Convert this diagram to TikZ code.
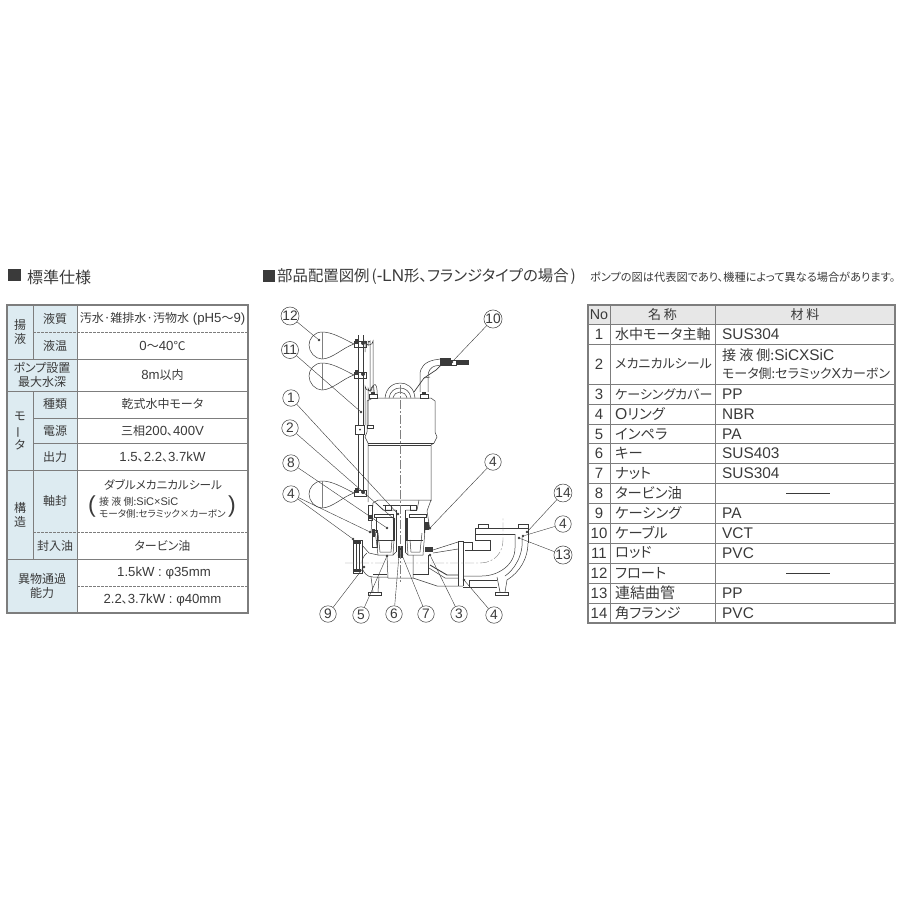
\documentclass[tikz,border=0pt]{standalone}
\usepackage{graphicx}
\usepackage{fontspec}
\setmainfont[RawFeature=+palt]{Noto Sans CJK JP}
\newfontfamily\latfont[Scale=1.1]{Liberation Sans}
\newcommand{\lat}[1]{{\latfont #1}}
\newcommand{\fsz}[1]{\fontsize{#1}{#1}\selectfont\setlength{\baselineskip}{1.2\baselineskip}}
\definecolor{ink}{HTML}{3A3A3A}
\definecolor{rulegray}{HTML}{7D7D7D}
\definecolor{paleblue}{HTML}{DDEBF1}
\definecolor{palegray}{HTML}{E7E7E7}
\tikzset{every node/.style={inner sep=0pt,text=ink}}
\tikzset{title/.style={anchor=west,font=\fsz{15.4}}}
\tikzset{cell/.style={align=center,font=\fsz{12}}}
\tikzset{rowtext/.style={anchor=west,font=\fsz{14.3}}}
\tikzset{frame/.style={rulegray,line width=1.1pt}}
\tikzset{row/.style={rulegray,line width=0.7pt}}
\tikzset{rowdash/.style={rulegray,line width=0.6pt,dash pattern=on 2.5pt off 1.5pt}}
\tikzset{part/.style={ink,line width=0.5pt}}
\tikzset{dark/.style={fill=ink,draw=none}}
\tikzset{center line/.style={gray,line width=0.4pt,dash pattern=on 9pt off 2pt on 2pt off 2pt}}
\tikzset{point/.style={fill=ink,circle,inner sep=0.9pt}}
\tikzset{numcircle/.style={draw=ink,fill=white,circle,line width=0.5pt,minimum size=16.5pt,font=\latfont\fsz{12.5}}}
\tikzset{leader/.style={ink,line width=0.4pt}}
\begin{document}
\begin{tikzpicture}[x=1pt,y=-1pt]
    \useasboundingbox (0,0) rectangle (900,900);
    % titles
    \fill [ink] (8,269) rectangle (21,281);
    \node [title,font=\fsz{16}] (specTitle) at (27,277) {標準仕様};
    \fill [ink] (263,270) rectangle (275,282);
    \node [title] (partsTitle) at (277,277) {部品配置図例\hspace{2pt}(\lat{-LN}形、フランジタイプの場合\hspace{2pt})};
    \node [anchor=west,font=\fsz{11.2}] (noteText) at (590,277) {ポンプの図は代表図であり、機種によって異なる場合があります。};

    % spec table
    \fill [paleblue] (7,305) rectangle (77,613);
    \foreach \ry in {359,391,470,559.5} {
        \draw [row] (7,\ry) -- (248,\ry);
    }
    \foreach \ry in {418,443.5} {
        \draw [row] (33,\ry) -- (248,\ry);
    }
    \draw [rowdash] (33,332) -- (248,332);
    \draw [rowdash] (33,532) -- (248,532);
    \draw [rowdash] (77,586) -- (248,586);
    \draw [row] (33,305) -- (33,359);
    \draw [row] (33,391) -- (33,559.5);
    \draw [row] (77,305) -- (77,613);
    \draw [frame] (7,305) rectangle (248,613);

    \node [cell] (sLiquid) at (20,332) {揚\\液};
    \node [cell] (sQuality) at (55,319) {液質};
    \node [cell] (sTemp) at (55,346) {液温};
    \node [cell] (sDepth) at (42,375) {ポンプ設置\\最大水深};
    \node [cell] (sMotor) at (20,431) {モ\\\rotatebox[origin=c]{90}{ー}\\タ};
    \node [cell] (sKind) at (55,404) {種類};
    \node [cell] (sPower) at (55,431) {電源};
    \node [cell] (sOutput) at (55,457) {出力};
    \node [cell] (sBuild) at (20,515) {構\\造};
    \node [cell] (sSeal) at (55,501) {軸封};
    \node [cell] (sOil) at (55,546) {封入油};
    \node [cell] (sPass) at (42,586) {異物通過\\能力};

    \node [cell] (vQuality) at (162.5,319) {汚水·雑排水·汚物水\lat{ (pH5}～\lat{9)}};
    \node [cell] (vTemp) at (162.5,346) {\lat{0}～\lat{40}℃};
    \node [cell] (vDepth) at (162.5,375) {\lat{8m}以内};
    \node [cell] (vKind) at (162.5,404) {乾式水中モータ};
    \node [cell] (vPower) at (162.5,431) {三相\lat{200}、\lat{400V}};
    \node [cell] (vOutput) at (162.5,457) {\lat{1.5}、\lat{2.2}、\lat{3.7kW}};
    \node [cell,font=\fsz{11.6}] (vSeal) at (163,485) {ダブルメカニカルシール};
    \node [cell,anchor=west,font=\fsz{10}] (vSealA) at (99,502) {接 液 側:\lat{SiC×SiC}};
    \node [cell,anchor=west,font=\fsz{9.6}] (vSealB) at (99,514) {モータ側:セラミック×カーボン};
    \node [cell,font=\latfont\fsz{21}] (parenL) at (92,507) {(};
    \node [cell,font=\latfont\fsz{21}] (parenR) at (232,507) {)};
    \node [cell] (vOil) at (162.5,546) {タービン油};
    \node [cell] (vPassA) at (164,573) {\lat{1.5kW : φ35mm}};
    \node [cell] (vPassB) at (162.5,600) {\lat{2.2}、\lat{3.7kW : φ40mm}};

    % pump: floats and rod
    \foreach \fy in {344,375,493} {
        \draw [part] (354,\fy) .. controls (342,\fy-6) and (332,\fy-12) .. (322,\fy-12)
            .. controls (314,\fy-12) and (309,\fy-5) .. (309,\fy+1)
            .. controls (309,\fy+8) and (315,\fy+15) .. (322,\fy+15)
            .. controls (332,\fy+15) and (344,\fy+3) .. (354,\fy) -- cycle;
        \draw [part,gray] (322,\fy-12) -- (322,\fy+15);
        \draw [part,fill=white] (354,\fy-3) rectangle (366,\fy+3);
        \fill [dark] (355,\fy-5) rectangle (359,\fy);
        \fill [dark] (363,\fy-1) circle (2pt);
    }
    \draw [part] (358,335) -- (358,490);
    \draw [part] (363,335) -- (363,490);
    \draw [part,fill=white] (355,425) rectangle (364,434);
    \fill [dark] (360,429.5) circle (1pt);
    \draw [part] (365,352) -- (365,341) arc [start angle=180,end angle=0,radius=4] -- (373,392);
    \draw [part] (368,346) -- (368,341) arc [start angle=180,end angle=0,radius=1] -- (370,392);
    \draw [part] (365,425) -- (365,386) arc [start angle=180,end angle=90,radius=5]
        .. controls (374,381) and (377,384) .. (377,390) -- (377,394);
    \draw [part] (368,425) -- (368,388) arc [start angle=180,end angle=90,radius=3]
        .. controls (373,384) and (374,386) .. (374,390) -- (374,394);
    \draw [part] (367,425) rectangle (373,428);

    % pump: motor
    \draw [part] (373,398) -- (431,398) -- (435,401) -- (435,432) -- (437,437) -- (434,443) -- (431,445)
        -- (431,501);
    \draw [part] (373,398) -- (367,401) -- (367,432) -- (365,437) -- (368,443) -- (368,502);
    \draw [part] (368,443) -- (434,443);
    \draw [part] (368,445) -- (431,445);
    \draw [part] (385,398) .. controls (386,387) and (394,383) .. (400,383)
        .. controls (407,383) and (414,387) .. (415,398);
    \draw [part] (389,398) .. controls (390,391) and (395,388) .. (400,388)
        .. controls (405,388) and (410,391) .. (411,398);
    \draw [part] (393,398) .. controls (394,394) and (397,392) .. (400,392)
        .. controls (403,392) and (406,394) .. (407,398);
    \foreach \bx in {373,424} {
        \draw [part,fill=white] (\bx-4,394) rectangle (\bx+4,398);
        \fill [dark] (\bx-2,392) rectangle (\bx+2,394);
    }
    \draw [part] (420,392) -- (420,375) .. controls (420,367) and (425,362) .. (434,360) -- (440,359);
    \draw [part] (428,392) -- (428,376) .. controls (428,371) and (431,367) .. (435,366) -- (441,365);
    \fill [dark] (440,358) rectangle (451,366);
    \draw [part,fill=white] (451,360) rectangle (456,365);
    \fill [dark] (456,360) rectangle (469,365);
    \draw [part,line width=0.7pt] (414,392) -- (424,378) -- (436,370) -- (441,365);
    \draw [part] (424,378) -- (430,377);

    % pump: seal housing
    \draw [part] (373,503) -- (378,500) -- (431,500) -- (427,511);
    \draw [part] (376,503) -- (383,510) -- (396,510);
    \draw [part] (406,510) -- (417,510) -- (419,500);
    \draw [part] (383,505) -- (417,505);
    \draw [part] (385,505) rectangle (391,510);
    \draw [part] (410,505) rectangle (416,510);
    \draw [part] (373,503) -- (372,517) -- (371,533);
    \draw [part] (427,511) -- (430,530);
    \draw [part] (374,514) rectangle (393,517);
    \draw [part] (409,514) rectangle (426,517);
    \draw [part] (376,517) -- (376,533);
    \draw [part] (424,517) -- (424,533);
    \draw [part] (375,530) -- (378,555) -- (393,555) -- (394,540);
    \draw [part] (378,533) -- (380,552) -- (391,552) -- (392,540);
    \draw [part] (425,530) -- (423,555) -- (408,555) -- (407,540);
    \draw [part] (422,533) -- (420,552) -- (411,552) -- (410,540);
    \draw [part] (376,540) -- (394,540);
    \draw [part] (407,540) -- (423,540);
    \draw [part] (396,510) -- (396,552);
    \draw [part] (405,510) -- (405,552);
    \draw [part] (393,555) -- (396,552);
    \draw [part] (408,555) -- (405,552);
    \draw [part] (372,530) rectangle (377,547);
    \draw [part] (368,505) rectangle (372,520);
    \fill [dark] (393,518) rectangle (395,541);
    \fill [dark] (406,518) rectangle (408,541);
    \fill [dark] (398,546) rectangle (403,558);
    \fill [dark] (372,529) rectangle (375,537);
    \fill [dark] (369,515) rectangle (372,519);
    \fill [dark] (424,522) rectangle (429,530);
    \fill [dark] (425,547) rectangle (433,552);

    % pump: casing
    \draw [part,fill=white] (353,540) rectangle (362,573);
    \fill [dark] (354,541) rectangle (361,544);
    \fill [dark] (354,569) rectangle (361,572);
    \draw [part] (356,544) -- (356,569);
    \draw [part] (359,544) -- (359,569);
    \draw [part] (362,545) -- (369,553) -- (378,555);
    \draw [part] (362,568) .. controls (364,573) and (367,577) .. (373,577) -- (388,577);
    \draw [part] (367,553) .. controls (363,556) and (362,560) .. (362,563);
    \draw [part] (387,555) -- (388,578) -- (413,578) -- (413,555);
    \draw [part] (373,574) -- (387,574);
    \draw [part] (413,574) -- (428,574) -- (428,555);
    \draw [part] (371,577) -- (373,592);
    \draw [part] (379,577) -- (378,592);
    \draw [part] (368,592) rectangle (381,595);
    \draw [part] (433,550) -- (458,542);
    \draw [part] (433,553) -- (458,549);
    \draw [part,line width=0.9pt] (430,565) -- (447,575) -- (458,575);
    \draw [part] (429,568) -- (445,578) -- (458,578);
    \draw [part] (413,578) -- (437,586) -- (463,586);
    \draw [part] (458,541) -- (463,541) -- (463,586);
    \draw [part] (458,541) -- (458,586);
    \draw [line width=1pt,ink] (463,541) -- (463,586);

    % pump: bend pipe
    \draw [part] (463,542) -- (472,542) -- (472,550) -- (490,550) -- (490,540) -- (475,540) -- (475,528)
        -- (528,528) -- (528,543);
    \draw [part] (465,550) -- (472,550);
    \draw [part] (475,534) -- (515,534);
    \draw [part] (515,534) -- (515,548) .. controls (515,565) and (498,576) .. (482,576) -- (463,576);
    \draw [part] (528,543) .. controls (528,558) and (520,572) .. (507,580);
    \draw [part] (522,537) .. controls (524,555) and (514,570) .. (505,576);
    \draw [part] (463,587) -- (497,587);
    \draw [part] (497,577) -- (500,592);
    \draw [part] (507,580) -- (505,592);
    \draw [part] (495,592) rectangle (508,595);
    \draw [part] (469,580) -- (469,587);
    \draw [part] (469,580) -- (497,580);
    \foreach \bx in {478,518} {
        \draw [part] (\bx,524) rectangle (\bx+10,528);
    }
    \draw [center line] (400,385) -- (400,582);
    \draw [center line] (345,563) -- (480,563) .. controls (495,563) and (503,552) .. (503,540) -- (503,518);

    % numbered circles
    \foreach \cname/\cx/\cy/\ctext in {c12/290/316/12,c11/290/350/11,c1/291/398/1,c2/290/428/2,
        c8/291/463/8,c4a/291/494/4,c10/493/319/10,c4b/493/462/4,c14/563/493/14,c4c/563/524/4,
        c13/563/555/13,c9/328/614/9,c5/361/615/5,c6/394/614/6,c7/426/614/7,c3/459/614/3,c4d/494/615/4} {
        \node [numcircle] (\cname) at (\cx,\cy) {\ctext};
    }
    \foreach \pname/\cname/\cx/\cy in {p12/c12/319/340,p11/c11/361/412,p1/c1/398/514,p2/c2/394/519,
        p8/c8/387/528,p4a/c4a/370/532,p4e/c4a/353/539,p10/c10/452/362,p4b/c4b/430/528,p14/c14/527/532,
        p4c/c4c/523/536,p13/c13/519/538,p9/c9/364/567,p5/c5/387/556,p6/c6/399/555,p7/c7/402/555,
        p3/c3/430/555,p4d/c4d/464/580} {
        \node [point] (\pname) at (\cx,\cy) {};
        \draw [leader] (\cname) -- (\pname);
    }

    % parts table
    \fill [palegray] (588,305) rectangle (895,324);
    \foreach \ry in {324,344,384,404,424,443,463,483,503,523,543,563,583,603} {
        \draw [row] (588,\ry) -- (895,\ry);
    }
    \draw [row] (610,305) -- (610,623);
    \draw [row] (715,305) -- (715,623);
    \draw [frame] (588,305) rectangle (895,623);
    \node [font=\latfont\fsz{13}] (hNo) at (599,315) {No};
    \node [font=\fsz{13}] (hName) at (662.5,315) {名 称};
    \node [font=\fsz{13}] (hMat) at (805,315) {材 料};
    \foreach \no/\ry/\pname/\pmat in {1/334/{\fsz{14}水中モータ主軸}/\lat{SUS304},
        2/364/{\fsz{13}メカニカルシール}/{},
        3/394/{\fsz{13}ケーシングカバー}/\lat{PP},
        4/414/\lat{O}リング/\lat{NBR},
        5/434/インペラ/\lat{PA},
        6/453.5/キー/\lat{SUS403},
        7/473/ナット/\lat{SUS304},
        8/493/タービン油/{},
        9/513/ケーシング/\lat{PA},
        10/533/ケーブル/\lat{VCT},
        11/553/ロッド/\lat{PVC},
        12/573/フロート/{},
        13/593/{\fsz{15}連結曲管}/\lat{PP},
        14/613/角フランジ/\lat{PVC}} {
        \node [font=\latfont\fsz{13.6}] (no\no) at (599,\ry) {\no};
        \node [rowtext] (name\no) at (615,\ry) {\pname};
        \node [rowtext,font=\fsz{14}] (mat\no) at (722,\ry) {\pmat};
    }
    \node [rowtext,font=\fsz{14}] (matA) at (722,355) {接 液 側:\lat{SiCXSiC}};
    \node [rowtext,font=\fsz{13}] (matB) at (722,374) {モータ側:セラミック\lat{X}カーボン};
    \node (dash8) at (808,493) {\rule{44pt}{0.9pt}};
    \node (dash12) at (808,573) {\rule{44pt}{0.9pt}};
\end{tikzpicture}
\end{document}
